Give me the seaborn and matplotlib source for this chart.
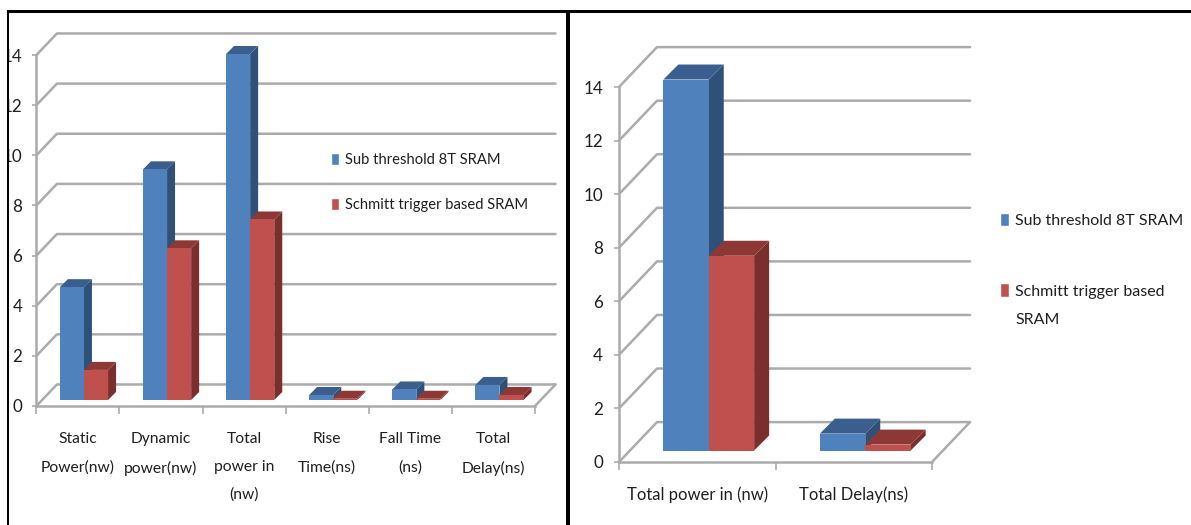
import matplotlib
matplotlib.use("Agg")
import matplotlib.pyplot as plt
import pandas as pd
import seaborn as sns
from matplotlib.patches import Polygon, Rectangle

W, H = 1191, 525
BLUE, RED = "#4F81BD", "#C0504D"
BLUE_SIDE, BLUE_TOP = "#2F5178", "#3A5F8E"
RED_SIDE, RED_TOP = "#7B2F2D", "#8E3836"
GRID = "#ABABAB"
TEXT = "#1F1F1F"
FONT = ["Lato", "DejaVu Sans"]

series_names = ["Sub threshold 8T SRAM", "Schmitt trigger based SRAM"]
y_ticks = [0, 2, 4, 6, 8, 10, 12, 14]

left_categories = ["Static\nPower(nw)", "Dynamic\npower(nw)", "Total\npower in\n(nw)",
                   "Rise\nTime(ns)", "Fall Time\n(ns)", "Total\nDelay(ns)"]
left_sub = [4.5, 9.2, 13.8, 0.2, 0.42, 0.6]
left_schmitt = [1.2, 6.05, 7.2, 0.05, 0.05, 0.2]

right_categories = ["Total power in (nw)", "Total Delay(ns)"]
right_sub = [13.85, 0.63]
right_schmitt = [7.27, 0.22]

sns.set_theme(style="white")
plt.rcParams["font.family"] = FONT
plt.rcParams["text.color"] = TEXT


def draw_panel(fig, box, cats, sub, schmitt, wall, bar_shift, bar_depth,
               tick_len, pad, tick_px, label_px, label_pad, linespacing):
    x0, x1, y_zero, y_top = box
    ax = fig.add_axes([x0 / W, 1 - y_zero / H, (x1 - x0) / W, (y_zero - y_top) / H])
    ax.patch.set_alpha(0)
    df = pd.DataFrame({"cat": cats * 2,
                       "val": sub + schmitt,
                       "name": [series_names[0]] * len(cats) + [series_names[1]] * len(cats)})
    sns.barplot(data=df, x="cat", y="val", hue="name", order=cats, palette=[BLUE, RED],
                width=0.58, gap=0, saturation=1, ax=ax)
    n = len(cats)
    ax.set_xlim(-0.5, n - 0.5)
    ax.set_ylim(0, 14)
    ux = (x1 - x0) / n
    uy = (y_zero - y_top) / 14

    # back wall and floor
    wx, wy = wall / ux, wall / uy
    for v in y_ticks:
        ax.plot([-0.5, -0.5 + wx, n - 0.5 + wx], [v, v + wy * 1.05, v + wy * 1.05],
                color=GRID, lw=1.8, clip_on=False, zorder=1)
    ax.plot([n - 0.5, n - 0.5 + wx], [0, wy * 1.05], color=GRID, lw=1.8, clip_on=False, zorder=1)

    # fake 3d: shift the fronts onto the floor, add top and side faces
    sx, sy = bar_shift / ux, bar_shift / uy
    dx, dy = bar_depth / ux, bar_depth / uy
    colors = [(BLUE_SIDE, BLUE_TOP), (RED_SIDE, RED_TOP)]
    for i, cont in enumerate(ax.containers):
        z = 3 + i
        for p in cont:
            p.set_x(p.get_x() + sx)
            p.set_y(sy)
            p.set_zorder(z + 0.2)
            p.set_clip_on(False)
            p.set_linewidth(0)
            xa, xb = p.get_x(), p.get_x() + p.get_width()
            yb, yt = sy, sy + p.get_height()
            ax.add_patch(Polygon([(xb, yb), (xb + dx, yb + dy), (xb + dx, yt + dy), (xb, yt)],
                                 fc=colors[i][0], lw=0, zorder=z, clip_on=False))
            ax.add_patch(Polygon([(xa, yt), (xa + dx, yt + dy), (xb + dx, yt + dy), (xb, yt)],
                                 fc=colors[i][1], lw=0, zorder=z, clip_on=False))

    sns.despine(ax=ax)
    for s in ("left", "bottom"):
        ax.spines[s].set_color(GRID)
        ax.spines[s].set_linewidth(1.8)
    ax.set_xlabel("")
    ax.set_ylabel("")
    ax.set_yticks(y_ticks)
    ax.tick_params(axis="y", left=True, length=tick_len * 0.72, color=GRID, width=1.2,
                   pad=pad * 0.72, labelsize=tick_px * 0.72, labelcolor=TEXT)
    ax.set_xticks([i - 0.5 for i in range(n + 1)], minor=True)
    ax.tick_params(axis="x", which="minor", bottom=True, length=8 * 0.72, color=GRID, width=1.2)
    ax.tick_params(axis="x", which="major", bottom=False, pad=label_pad * 0.72,
                   labelsize=label_px * 0.72, labelcolor=TEXT)
    for t in ax.get_xticklabels():
        t.set_linespacing(linespacing)
    return ax


def place_legend(ax, fig, labels, x, y, font_px, spacing):
    handles, _ = ax.get_legend_handles_labels()
    ax.legend(handles, labels, loc="upper left", bbox_to_anchor=(x / W, 1 - y / H),
              bbox_transform=fig.transFigure, frameon=False, borderpad=0, borderaxespad=0,
              fontsize=font_px * 0.72, labelspacing=spacing, handlelength=0.55,
              handleheight=0.9, handletextpad=0.4)


fig = plt.figure(figsize=(W / 100, H / 100), dpi=100, facecolor="white")

ax_l = draw_panel(fig, (36.4, 535, 406, 55), left_categories, left_sub, left_schmitt,
                  wall=20.5, bar_shift=6, bar_depth=8, tick_len=4, pad=10,
                  tick_px=17, label_px=15.6, label_pad=17.5, linespacing=2.25)
place_legend(ax_l, fig, series_names, 331, 153, 14.8, 2.05)

ax_r = draw_panel(fig, (619, 932, 462, 87), right_categories, right_sub, right_schmitt,
                  wall=38, bar_shift=11.5, bar_depth=15, tick_len=5, pad=11,
                  tick_px=17, label_px=16.6, label_pad=16, linespacing=1.2)
place_legend(ax_r, fig, [series_names[0], "Schmitt trigger based"], 1000, 213, 16, 3.45)
ax_r.text(1015 / W, 1 - 320 / H, "SRAM", transform=fig.transFigure, fontsize=16 * 0.72,
          va="center", color=TEXT)

# frame of the two pasted pictures, the left strip cuts into the tick labels
fig.add_artist(Rectangle((0, 0), 8 / W, 1, transform=fig.transFigure, fc="white", lw=0, zorder=5))
fig.add_artist(Rectangle((7 / W, 0), 2.2 / W, 1 - 10 / H, transform=fig.transFigure, fc="black", lw=0, zorder=6))
fig.add_artist(Rectangle((565.5 / W, 0), 4.5 / W, 1 - 10 / H, transform=fig.transFigure, fc="black", lw=0, zorder=6))
fig.add_artist(Rectangle((7 / W, 1 - 12.5 / H), 1 - 7 / W, 2.5 / H, transform=fig.transFigure, fc="black", lw=0, zorder=6))

fig.savefig("out.png", dpi=100)
